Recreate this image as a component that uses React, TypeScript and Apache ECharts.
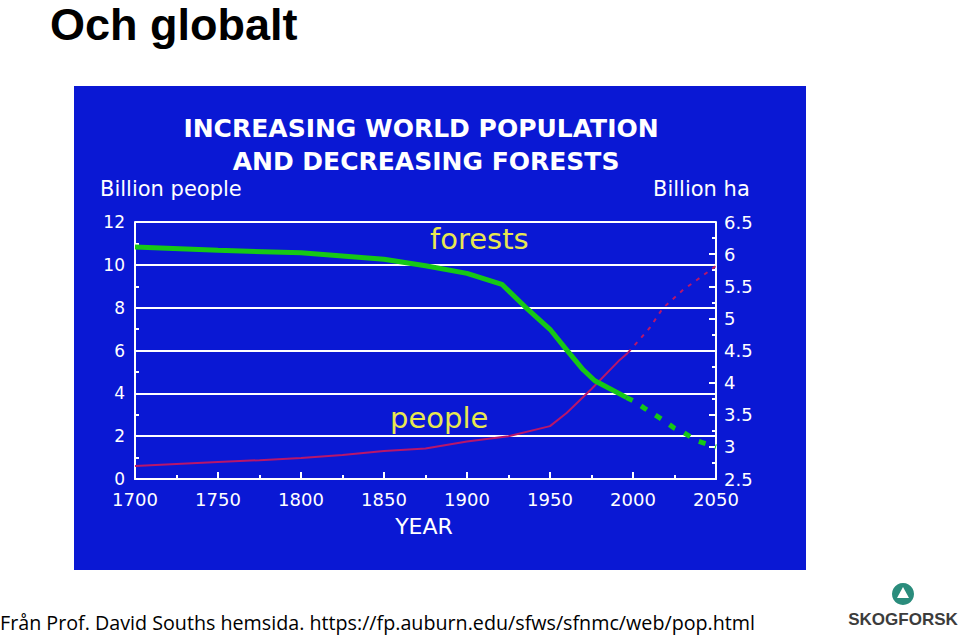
import React, { useEffect, useRef } from "react";
import * as echarts from "echarts";

// ---- data ----
const popYears = [1700, 1725, 1750, 1775, 1800, 1825, 1850, 1875, 1900, 1925, 1950, 1960, 1975, 1992, 1997];
const popValues = [0.61, 0.7, 0.79, 0.88, 0.98, 1.12, 1.31, 1.42, 1.75, 2.0, 2.47, 3.08, 4.2, 5.56, 5.9];
const popProjYears = [1997, 2000, 2010, 2018, 2030, 2040, 2050];
const popProjValues = [5.9, 6.16, 7.05, 7.98, 8.82, 9.38, 9.95];

const forestYears = [1700, 1750, 1800, 1850, 1875, 1900, 1921, 1935, 1950, 1960, 1970, 1977, 1985, 1996];
const forestValues = [6.11, 6.06, 6.02, 5.92, 5.82, 5.7, 5.53, 5.18, 4.83, 4.51, 4.2, 4.03, 3.92, 3.77];
const forestProjYears = [1996, 2000, 2007, 2018, 2025, 2030, 2039, 2050];
const forestProjValues = [3.77, 3.72, 3.6, 3.42, 3.29, 3.23, 3.09, 3.0];

const chartTitle1 = "INCREASING WORLD POPULATION";
const chartTitle2 = "AND DECREASING FORESTS";
const leftAxisName = "Billion people";
const rightAxisName = "Billion ha";
const xAxisName = "YEAR";
const slideTitle = "Och globalt";
const footerText = "Från Prof. David Souths hemsida. https://fp.auburn.edu/sfws/sfnmc/web/pop.html";

const pair = (xs: number[], ys: number[]) => xs.map((x, i) => [x, ys[i]]);

const BLUE = "#0a18d4";
const WHITE = "#ffffff";
const GREEN = "#16c816";
const RED = "#b8166a";
const YELLOW = "#e8e850";
const PIX = "DejaVu Sans";

export default function App() {
  const ref = useRef<HTMLDivElement>(null);
  useEffect(() => {
    if (!ref.current) return;
    const chart = echarts.init(ref.current, null, { renderer: "svg" });
    const axisLabel = { color: WHITE, fontSize: 17, fontFamily: PIX };
    chart.setOption({
      animation: false,
      backgroundColor: "#ffffff",
      grid: { left: 135, top: 222, width: 581, height: 257, containLabel: false },
      xAxis: {
        type: "value",
        min: 1700,
        max: 2050,
        interval: 50,
        axisLine: { show: true, lineStyle: { color: WHITE, width: 2 } },
        axisTick: { show: true, inside: true, length: 7, lineStyle: { color: WHITE, width: 2 } },
        minorTick: { show: true, splitNumber: 2, length: 4, lineStyle: { color: WHITE, width: 2 } },
        splitLine: { show: false },
        axisLabel: { ...axisLabel, fontSize: 18, margin: 11, formatter: (v: number) => String(v) },
      },
      yAxis: [
        {
          type: "value",
          position: "left",
          min: 0,
          max: 12,
          interval: 2,
          axisLine: { show: true, lineStyle: { color: WHITE, width: 2 } },
          axisTick: { show: true, inside: true, length: 6, lineStyle: { color: WHITE, width: 2 } },
          minorTick: { show: true, splitNumber: 2, length: 4, lineStyle: { color: WHITE, width: 2 } },
          splitLine: { show: true, lineStyle: { color: WHITE, width: 2 } },
          axisLabel: { ...axisLabel, margin: 10 },
        },
        {
          type: "value",
          position: "right",
          min: 2.5,
          max: 6.5,
          interval: 0.5,
          axisLine: { show: true, lineStyle: { color: WHITE, width: 2 } },
          axisTick: { show: true, inside: true, length: 7, lineStyle: { color: WHITE, width: 2 } },
          minorTick: { show: true, splitNumber: 2, length: 4, lineStyle: { color: WHITE, width: 2 } },
          splitLine: { show: false },
          axisLabel: { ...axisLabel, fontSize: 18, margin: 8 },
        },
      ],
      series: [
        {
          type: "line",
          yAxisIndex: 0,
          data: pair(popYears, popValues),
          showSymbol: false,
          lineStyle: { color: RED, width: 2 },
          z: 3,
        },
        {
          type: "line",
          yAxisIndex: 0,
          data: pair(popProjYears, popProjValues),
          showSymbol: false,
          lineStyle: { color: RED, width: 2, type: [4, 6] },
          z: 3,
        },
        {
          type: "line",
          yAxisIndex: 1,
          data: pair(forestYears, forestValues),
          showSymbol: false,
          lineStyle: { color: GREEN, width: 5 },
          z: 4,
        },
        {
          type: "line",
          yAxisIndex: 1,
          data: pair(forestProjYears, forestProjValues),
          showSymbol: false,
          lineStyle: { color: GREEN, width: 5, type: [7, 10], cap: "butt" },
          z: 4,
        },
      ],
      graphic: [
        { type: "rect", z: -10, shape: { x: 74, y: 86, width: 732, height: 484 }, style: { fill: BLUE } },
        { type: "text", x: 50, y: 24, style: { text: slideTitle, fill: "#000", font: "bold 45px 'Liberation Sans', Arial, sans-serif", lineHeight: 44, textVerticalAlign: "middle" } },
        { type: "text", x: 421, y: 128, style: { text: chartTitle1, fill: WHITE, font: `bold 25px '${PIX}'`, textAlign: "center", textVerticalAlign: "middle" } },
        { type: "text", x: 426, y: 161, style: { text: chartTitle2, fill: WHITE, font: `bold 25px '${PIX}'`, textAlign: "center", textVerticalAlign: "middle" } },
        { type: "text", x: 100, y: 189, style: { text: leftAxisName, fill: WHITE, font: `21px '${PIX}'`, textVerticalAlign: "middle" } },
        { type: "text", x: 653, y: 189, style: { text: rightAxisName, fill: WHITE, font: `21px '${PIX}'`, textVerticalAlign: "middle" } },
        { type: "text", x: 424, y: 526, style: { text: xAxisName, fill: WHITE, font: `22px '${PIX}'`, textAlign: "center", textVerticalAlign: "middle" } },
        { type: "text", x: 430, y: 239, style: { text: "forests", fill: YELLOW, font: `29px '${PIX}'`, textVerticalAlign: "middle" } },
        { type: "text", x: 390, y: 418, style: { text: "people", fill: YELLOW, font: `29px '${PIX}'`, textVerticalAlign: "middle" } },
        { type: "text", x: 0, y: 622, style: { text: footerText, fill: "#000", font: "19.7px 'Open Sans', sans-serif", textVerticalAlign: "middle" } },
        { type: "circle", shape: { cx: 903, cy: 594, r: 11 }, style: { fill: "#2a8c7c" } },
        { type: "polygon", shape: { points: [[903, 587], [909, 598], [897, 598]] }, style: { fill: "#ffffff" } },
        { type: "text", x: 903, y: 619, style: { text: "SKOGFORSK", fill: "#3c3c3c", font: "bold 17px 'Liberation Sans', Arial, sans-serif", textAlign: "center", textVerticalAlign: "middle" } },
      ],
    });
    return () => chart.dispose();
  }, []);
  return <div ref={ref} style={{ position: "absolute", left: 0, top: 0, width: 960, height: 635 }} />;
}
